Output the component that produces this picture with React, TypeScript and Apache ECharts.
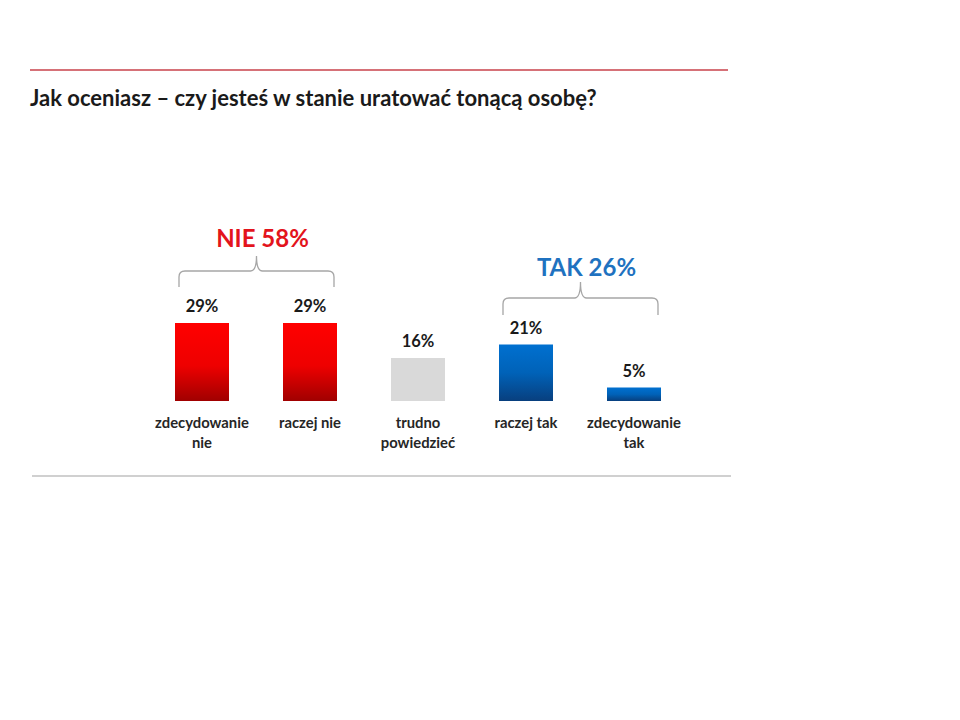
import React, { useEffect, useRef } from "react";
import * as echarts from "echarts";

const categories = ["zdecydowanie\nnie", "raczej nie", "trudno\npowiedzieć", "raczej tak", "zdecydowanie\ntak"];
const values = [29, 29, 16, 21, 5];
const kinds = ["no", "no", "neutral", "yes", "yes"];
const groupLabels = ["NIE 58%", "TAK 26%"];
const groupFrom = [0, 3];
const groupTo = [1, 4];
const groupKinds = ["no", "yes"];
const title = "Jak oceniasz – czy jesteś w stanie uratować tonącą osobę?";

const FONT = "Lato";

const Brace = echarts.graphic.extendShape({
  shape: { x1: 0, x2: 0, y: 0, yEnd: 0, tip: 0 },
  buildPath(ctx: any, s: any) {
    const r = 6;
    const xm = (s.x1 + s.x2) / 2;
    ctx.moveTo(s.x1, s.yEnd);
    ctx.lineTo(s.x1, s.y + r);
    ctx.quadraticCurveTo(s.x1, s.y, s.x1 + r, s.y);
    ctx.lineTo(xm - r, s.y);
    ctx.quadraticCurveTo(xm, s.y, xm, s.tip);
    ctx.moveTo(xm, s.tip);
    ctx.quadraticCurveTo(xm, s.y, xm + r, s.y);
    ctx.lineTo(s.x2 - r, s.y);
    ctx.quadraticCurveTo(s.x2, s.y, s.x2, s.y + r);
    ctx.lineTo(s.x2, s.yEnd);
  },
});
echarts.graphic.registerShape("brace", Brace);

function barColor(kind: string) {
  if (kind === "no") {
    return new echarts.graphic.LinearGradient(0, 0, 0, 1, [
      { offset: 0, color: "#ff0000" },
      { offset: 0.55, color: "#ee0000" },
      { offset: 1, color: "#a00000" },
    ]);
  }
  if (kind === "yes") {
    return new echarts.graphic.LinearGradient(0, 0, 0, 1, [
      { offset: 0, color: "#0070d0" },
      { offset: 0.5, color: "#0062b8" },
      { offset: 1, color: "#083f7e" },
    ]);
  }
  return "#d9d9d9";
}

export default function App() {
  const ref = useRef<HTMLDivElement>(null);
  useEffect(() => {
    if (!ref.current) return;
    const chart = echarts.init(ref.current, null, { renderer: "svg" });
    const barWidth = 54;
    chart.setOption({
      animation: false,
      grid: { left: 148, right: 272, top: 266.5, bottom: 319 },
      xAxis: {
        type: "category",
        data: categories,
        axisLine: { show: false },
        axisTick: { show: false },
        axisLabel: {
          interval: 0,
          margin: 11,
          fontFamily: FONT,
          fontWeight: "bold",
          fontSize: 14.8,
          lineHeight: 20,
          color: "#262626",
        },
      },
      yAxis: { type: "value", min: 0, max: 50, show: false, splitLine: { show: false } },
      series: [
        {
          type: "bar",
          barWidth,
          data: values.map((v, i) => ({ value: v, itemStyle: { color: barColor(kinds[i]) } })),
          label: {
            show: true,
            position: "top",
            distance: 8,
            formatter: "{c}%",
            fontFamily: FONT,
            fontWeight: "bold",
            fontSize: 16.5,
            color: "#1a1a1a",
          },
        },
      ],
    });

    const braceY = [
      { yEnd: 287, y: 271, tip: 256, label: 237 },
      { yEnd: 315, y: 298, tip: 282, label: 266 },
    ];
    const graphics: any[] = [
      { type: "line", shape: { x1: 30, y1: 70, x2: 728, y2: 70 }, style: { stroke: "#c8424b", lineWidth: 1.5 } },
      { type: "line", shape: { x1: 32, y1: 476, x2: 731, y2: 476 }, style: { stroke: "#c0c0c0", lineWidth: 1.5 } },
      {
        type: "text",
        style: {
          x: 30,
          y: 97,
          text: title,
          fontFamily: FONT,
          fontWeight: "bold",
          fontSize: 22,
          fill: "#1a1a1a",
          verticalAlign: "middle",
          align: "left",
        },
      },
    ];
    const half = barWidth / 2;
    groupLabels.forEach((lab, g) => {
      const cL = chart.convertToPixel({ xAxisIndex: 0 }, groupFrom[g]) as number;
      const cR = chart.convertToPixel({ xAxisIndex: 0 }, groupTo[g]) as number;
      const x1 = cL - half + 4;
      const x2 = cR + half - 3;
      const b = braceY[g];
      graphics.push({
        type: "brace",
        shape: { x1, x2, y: b.y, yEnd: b.yEnd, tip: b.tip },
        style: { stroke: "#a6a6a6", fill: "none", lineWidth: 1.3 },
      });
      graphics.push({
        type: "text",
        style: {
          x: (x1 + x2) / 2 + 6,
          y: b.label,
          text: lab,
          fontFamily: FONT,
          fontWeight: "bold",
          fontSize: 24,
          fill: groupKinds[g] === "no" ? "#e3141c" : "#1f72c0",
          align: "center",
          verticalAlign: "middle",
        },
      });
    });
    chart.setOption({ graphic: graphics });
    return () => chart.dispose();
  }, []);
  return <div ref={ref} style={{ position: "fixed", left: 0, top: 0, width: 960, height: 720, background: "#fff" }} />;
}
